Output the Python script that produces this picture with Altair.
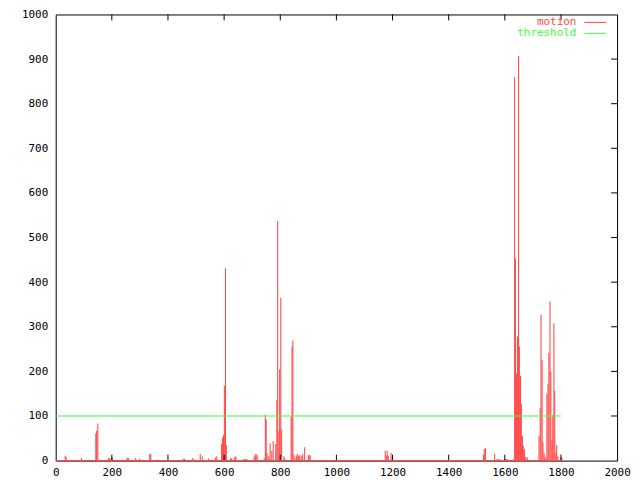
import altair as alt
import pandas as pd

# ---- data ----
frame = [32, 35, 61, 90, 118, 141, 144, 148, 186, 190, 196, 200, 238, 251, 255, 259,
         283, 297, 333, 337, 359, 362, 453, 457, 484, 487, 491, 495, 499, 513, 520,
         542, 567, 572, 589, 592, 596, 599, 603, 606, 621, 625, 634, 637, 640, 666,
         670, 673, 677, 680, 705, 709, 712, 716, 741, 745, 748, 751, 757, 762, 765,
         768, 773, 782, 786, 789, 793, 796, 800, 803, 811, 814, 837, 840, 843, 847,
         850, 855, 858, 861, 864, 868, 875, 878, 885, 898, 901, 905, 962, 1080,
         1172, 1176, 1179, 1183, 1193, 1197, 1522, 1525, 1529, 1562, 1570, 1573,
         1577, 1580, 1598, 1602, 1605, 1609, 1629, 1633, 1636, 1640, 1643, 1647,
         1650, 1654, 1657, 1661, 1664, 1668, 1671, 1675, 1678, 1720, 1724, 1727,
         1731, 1734, 1738, 1741, 1745, 1748, 1752, 1755, 1759, 1762, 1766, 1769,
         1773, 1776, 1780, 1783, 1787, 1798, 1801]
motion = [11, 8, 2, 6, 2, 61, 67, 83, 5, 5, 7, 7, 2, 4, 7, 5,
          6, 4, 15, 15, 2, 2, 4, 4, 3, 6, 2, 2, 2, 15, 10,
          5, 7, 10, 37, 52, 57, 168, 431, 35, 5, 5, 5, 8, 10, 3,
          3, 3, 3, 3, 9, 13, 15, 12, 5, 103, 92, 17, 10, 39, 3,
          22, 44, 37, 136, 537, 66, 205, 365, 70, 10, 5, 99, 256, 269, 13,
          5, 10, 15, 10, 12, 12, 10, 15, 30, 12, 12, 12, 2, 2,
          22, 11, 22, 11, 17, 7, 13, 26, 28, 15, 3, 3,
          3, 3, 3, 3, 3, 3, 3, 860, 453, 195, 278, 907,
          256, 190, 127, 55, 33, 26, 8, 3, 8, 55, 118, 327,
          225, 41, 17, 8, 5, 150, 172, 241, 357, 200, 47, 103,
          308, 156, 19, 35, 10, 5, 8]
frame_step = 3.8
series_start, series_end = 0, 1800
threshold = 100
legend_labels = ["motion", "threshold"]
x_ticks = [0, 200, 400, 600, 800, 1000, 1200, 1400, 1600, 1800, 2000]
y_ticks = [0, 100, 200, 300, 400, 500, 600, 700, 800, 900, 1000]

RED = "#ff4a4a"
GREEN = "#3cff3c"
FONT = "DejaVu Sans Mono"
W, H = 565, 449

df = pd.DataFrame({"frame": frame, "motion": motion})
df["frame_end"] = df["frame"] + frame_step
df["base"] = 0

xs = alt.Scale(domain=[0, 2000], nice=False)
ys = alt.Scale(domain=[0, 1000], nice=False)

x_axis = alt.Axis(values=x_ticks, format="d", ticks=False, domain=False, grid=False,
                  labelPadding=6, labelFont=FONT, labelFontSize=11, labelColor="black",
                  title=None, labelFlush=False)
y_axis = alt.Axis(values=y_ticks, format="d", ticks=False, domain=False, grid=False,
                  labelPadding=8, labelFont=FONT, labelFontSize=11, labelColor="black",
                  title=None)

bars = alt.Chart(df).mark_rect(color=RED, strokeWidth=0).encode(
    x=alt.X("frame:Q", scale=xs, axis=x_axis),
    x2="frame_end:Q",
    y=alt.Y("motion:Q", scale=ys, axis=y_axis),
    y2="base:Q",
)

line_df = pd.DataFrame({"start": [series_start, series_start],
                        "end": [series_end, series_end],
                        "y": [0, threshold],
                        "series": ["motion", "threshold"]})

lines = alt.Chart(line_df).mark_rule(strokeWidth=1.2).encode(
    x=alt.X("start:Q", scale=xs),
    x2="end:Q",
    y=alt.Y("y:Q", scale=ys),
    color=alt.Color("series:N", scale=alt.Scale(domain=legend_labels, range=[RED, GREEN]),
                    legend=None),
)

xt = pd.DataFrame({"v": x_ticks[1:-1]})
yt = pd.DataFrame({"v": y_ticks[1:-1]})
bottom_ticks = alt.Chart(xt).mark_rule(color="black").encode(
    x=alt.X("v:Q", scale=xs), y=alt.value(H), y2=alt.value(H - 6))
top_ticks = alt.Chart(xt).mark_rule(color="black").encode(
    x=alt.X("v:Q", scale=xs), y=alt.value(0), y2=alt.value(6))
right_ticks = alt.Chart(yt).mark_rule(color="black").encode(
    y=alt.Y("v:Q", scale=ys), x=alt.value(W), x2=alt.value(W - 6))

leg = []
for i, (lab, col) in enumerate(zip(legend_labels, [RED, GREEN])):
    yy = 8 + 11 * i
    leg.append(alt.Chart(pd.DataFrame({"t": [lab]})).mark_text(
        align="right", baseline="middle", font=FONT, fontSize=11, color=col).encode(
        text="t:N", x=alt.value(524), y=alt.value(yy)))
    leg.append(alt.Chart(pd.DataFrame({"t": [lab]})).mark_rule(color=col, strokeWidth=1).encode(
        x=alt.value(532), x2=alt.value(554), y=alt.value(yy)))

chart = alt.layer(bars, bottom_ticks, top_ticks, right_ticks, lines, *leg).properties(
    width=W, height=H,
    autosize=alt.AutoSizeParams(type="none"),
    padding={"left": 48, "top": 5, "right": 15, "bottom": 16},
    background="white",
).configure_view(stroke="black", strokeWidth=1)

chart.save("out.html", embed_options={"renderer": "svg", "actions": False})
